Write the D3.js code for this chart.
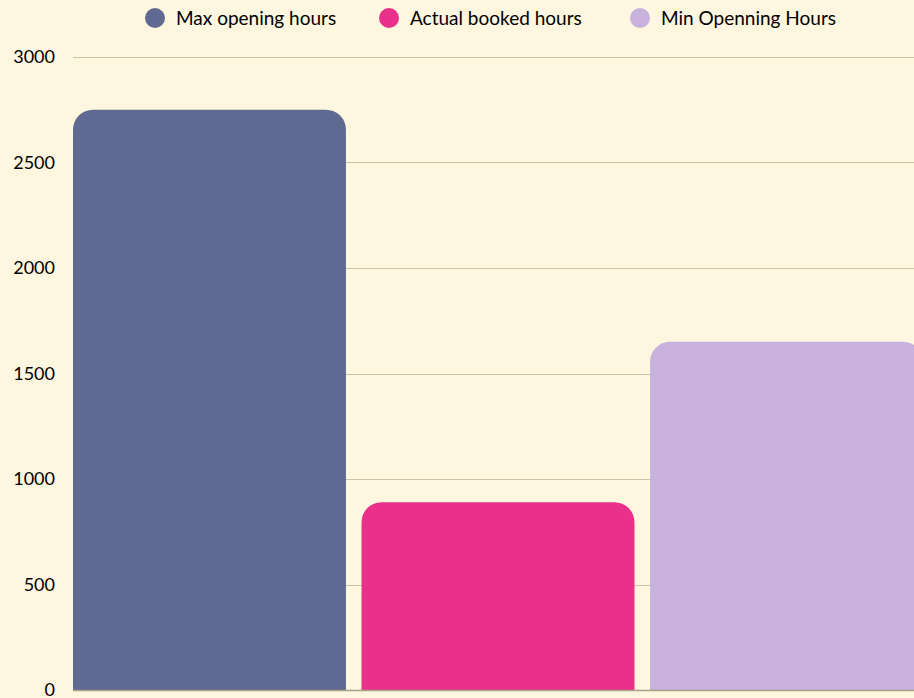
<!DOCTYPE html>
<html>
<head>
<meta charset="utf-8">
<script src="https://cdn.jsdelivr.net/npm/d3@7"></script>
<style>
  html, body { margin: 0; padding: 0; background: #fef6de; overflow: hidden; }
  svg { display: block; font-family: Lato, "Noto Sans", sans-serif; }
</style>
</head>
<body>
<svg id="chart" width="914" height="698"></svg>
<script>
// chart data
var categories = ['Max opening hours', 'Actual booked hours', 'Min Openning Hours']
var values = [2750, 890, 1650]
var colors = ['#5f6991', '#e9308a', '#c8b1dd']
var yTicks = [0, 500, 1000, 1500, 2000, 2500, 3000]

var svg = d3.select('#chart')
var margin = { left: 73, top: 57, bottom: 8 }
var plotRight = 923
var height = 698

var x = d3.scaleBand()
  .domain(categories)
  .range([margin.left, plotRight])
  .paddingInner(0.054)
  .paddingOuter(0)

var y = d3.scaleLinear()
  .domain([0, 3000])
  .range([height - margin.bottom, margin.top])

// gridlines
svg.append('g')
  .selectAll('line')
  .data(yTicks.filter(function (d) { return d > 0 }))
  .enter()
  .append('line')
  .attr('x1', margin.left)
  .attr('x2', 914)
  .attr('y1', function (d) { return Math.round(y(d)) + 0.5 })
  .attr('y2', function (d) { return Math.round(y(d)) + 0.5 })
  .attr('stroke', '#cbc2a8')
  .attr('stroke-width', 1)

// y axis labels
var yAxis = d3.axisLeft(y).tickValues(yTicks).tickFormat(d3.format('d')).tickSize(0).tickPadding(18)
var gy = svg.append('g')
  .attr('transform', 'translate(' + margin.left + ',0)')
  .call(yAxis)
gy.select('.domain').remove()
gy.selectAll('text')
  .attr('font-size', 18)
  .attr('fill', '#000')
  .attr('font-family', 'Lato, "Noto Sans", sans-serif')

// bars with rounded top corners
var r = 20
function barPath (d, i) {
  var x0 = x(categories[i])
  var x1 = x0 + x.bandwidth()
  var y0 = y(0)
  var yt = y(d)
  return 'M' + x0 + ',' + y0 +
    'V' + (yt + r) +
    'A' + r + ',' + r + ' 0 0 1 ' + (x0 + r) + ',' + yt +
    'H' + (x1 - r) +
    'A' + r + ',' + r + ' 0 0 1 ' + x1 + ',' + (yt + r) +
    'V' + y0 + 'Z'
}

svg.append('g')
  .selectAll('path')
  .data(values)
  .enter()
  .append('path')
  .attr('d', barPath)
  .attr('fill', function (d, i) { return colors[i] })

// baseline
svg.append('line')
  .attr('x1', margin.left)
  .attr('x2', 914)
  .attr('y1', y(0) + 0.5)
  .attr('y2', y(0) + 0.5)
  .attr('stroke', '#a9a189')
  .attr('stroke-width', 1.5)

// legend
var legendX = [155, 389, 640]
var legend = svg.append('g')
  .selectAll('g')
  .data(categories)
  .enter()
  .append('g')
  .attr('transform', function (d, i) { return 'translate(' + legendX[i] + ',18)' })
legend.append('circle')
  .attr('r', 10)
  .attr('fill', function (d, i) { return colors[i] })
legend.append('text')
  .attr('x', 21)
  .attr('dy', '0.35em')
  .attr('font-size', 19)
  .attr('fill', '#000')
  .text(function (d) { return d })
</script>
</body>
</html>
